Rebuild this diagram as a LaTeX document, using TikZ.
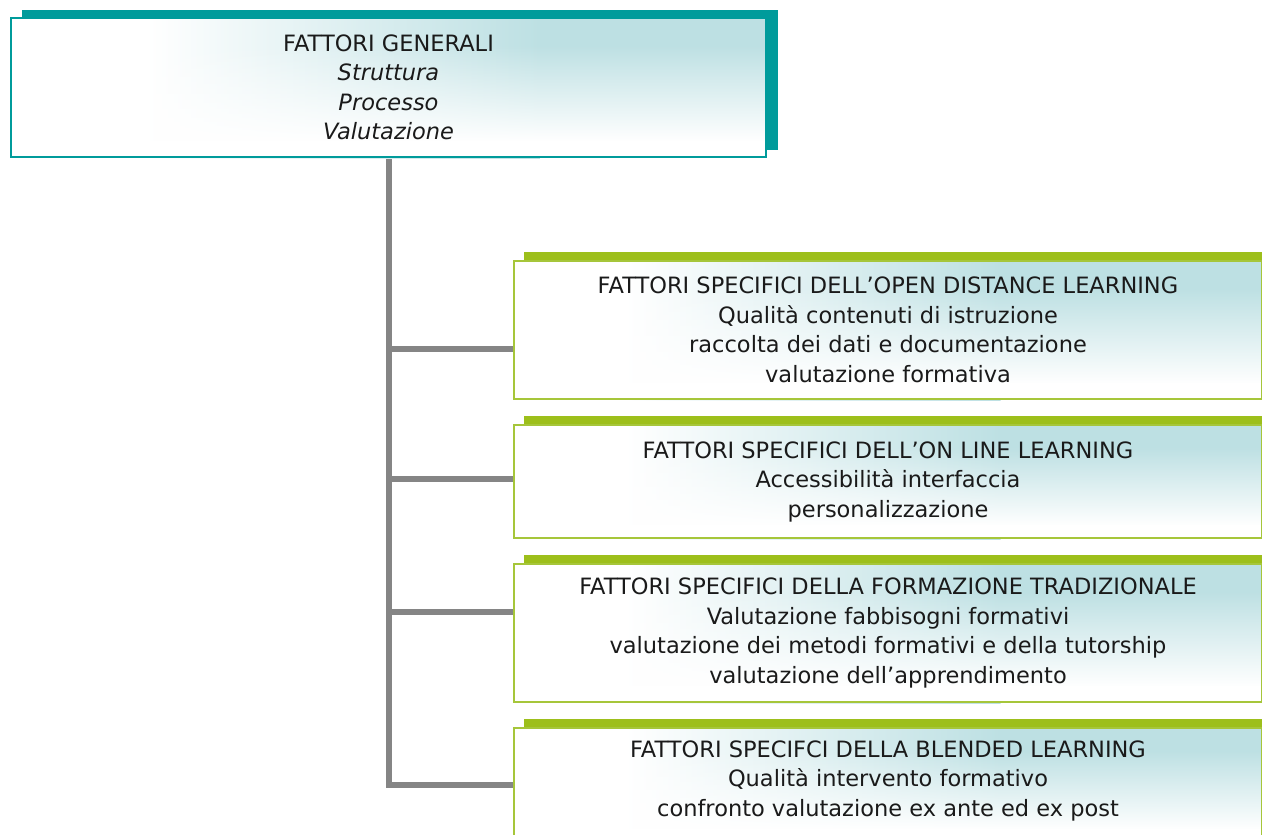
\documentclass[tikz,border=0pt]{standalone}
\usepackage{fontspec}
\setmainfont{DejaVu Sans}
\usetikzlibrary{backgrounds,calc,fadings}
\definecolor{tealc}{HTML}{009B9B}
\definecolor{lightc}{HTML}{BDE0E3}
\definecolor{greenbar}{HTML}{9DBF1B}
\definecolor{greenline}{HTML}{A6C63A}
\definecolor{connc}{HTML}{858585}
\definecolor{txt}{HTML}{1A1A1A}
\tikzfading[name=vfade, top color=transparent!100, bottom color=transparent!0]
\begin{document}
\begin{tikzpicture}[x=1pt,y=-1pt,
  box/.style={anchor=north west, inner sep=0pt, align=center,
    font=\fontsize{22.5}{29.5}\selectfont, text=txt},
  topbox/.style={box, draw=tealc, line width=2pt, minimum width=755pt, minimum height=139pt},
  gbox/.style={box, draw=greenline, line width=2pt, minimum width=748pt},
  conn/.style={draw=connc, line width=6pt},
  topbar/.style={fill=tealc},
  gbar/.style={fill=greenbar}]
\useasboundingbox (0,0) rectangle (1262,835);
\clip (0,0) rectangle (1262,835);

\node[topbox] (top) at (10,17) {FATTORI GENERALI\\\itshape Struttura\\\itshape Processo\\\itshape Valutazione};

\node[gbox, minimum height=138pt] (b1) at (513,260) {FATTORI SPECIFICI DELL’OPEN DISTANCE LEARNING\\Qualità contenuti di istruzione\\raccolta dei dati e documentazione\\valutazione formativa};
\node[gbox, minimum height=113pt] (b2) at (513,424) {FATTORI SPECIFICI DELL’ON LINE LEARNING\\Accessibilità interfaccia\\personalizzazione};
\node[gbox, minimum height=138pt] (b3) at (513,563) {FATTORI SPECIFICI DELLA FORMAZIONE TRADIZIONALE\\Valutazione fabbisogni formativi\\valutazione dei metodi formativi e della tutorship\\valutazione dell’apprendimento};
\node[gbox, minimum height=114pt, text depth=13pt] (b4) at (513,727) {FATTORI SPECIFCI DELLA BLENDED LEARNING\\Qualità intervento formativo\\confronto valutazione ex ante ed ex post};

\coordinate (j1) at ($(b1.west)+(0,19)$);
\coordinate (j2) at ($(b2.west)+(0,-2.5)$);
\coordinate (j3) at ($(b3.west)+(0,-21)$);

\begin{scope}[on background layer]
  \fill[topbar] ([xshift=12pt,yshift=7pt]top.north west) rectangle ([xshift=11pt,yshift=8pt]top.south east);
  \foreach \b in {b1,b2,b3,b4}{
    \fill[gbar] ([xshift=11pt,yshift=8pt]\b.north west) rectangle ([xshift=20pt,yshift=-10pt]\b.north east);
  }
  \draw[conn] (top.south) |- (b4.west);
  \draw[conn] (top.south |- j1) -- (j1);
  \draw[conn] (top.south |- j2) -- (j2);
  \draw[conn] (top.south |- j3) -- (j3);
  % gradient fills of the boxes
  \foreach \b/\s/\e in {top/0.18/0.7, b1/0.15/0.65, b2/0.15/0.65, b3/0.15/0.65, b4/0.15/0.65}{
    \fill[white] (\b.north west) rectangle (\b.south east);
    \shade[left color=white, right color=lightc]
      ($(\b.north west)!\s!(\b.north east)$) rectangle ($(\b.south west)!\e!(\b.south east)$);
    \fill[lightc] ($(\b.north west)!\e!(\b.north east)$) rectangle (\b.south east);
    \fill[white, path fading=vfade]
      ($(\b.north west)!0.2!(\b.south west)$) rectangle ($(\b.north east)!0.88!(\b.south east)$);
    \fill[white] ($(\b.north west)!0.88!(\b.south west)$) rectangle (\b.south east);
  }
\end{scope}
\end{tikzpicture}
\end{document}
